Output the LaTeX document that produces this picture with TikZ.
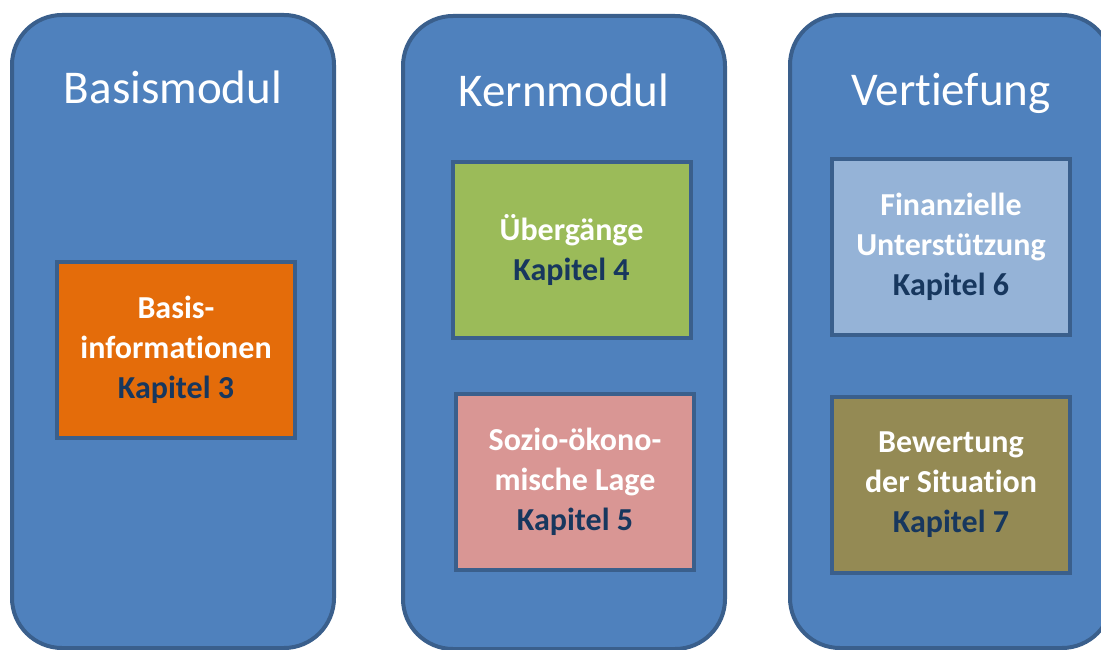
\documentclass[tikz,border=0pt]{standalone}
\usepackage{fontspec}
\setmainfont{Carlito}[Ligatures=NoCommon]
\usetikzlibrary{positioning}

\definecolor{modblue}{HTML}{4F81BD}
\definecolor{modedge}{HTML}{3A5F8C}
\definecolor{kapnavy}{HTML}{17375E}
\definecolor{boxorange}{HTML}{E46C0A}
\definecolor{boxgreen}{HTML}{9BBB59}
\definecolor{boxpink}{HTML}{D99694}
\definecolor{boxlight}{HTML}{95B3D7}
\definecolor{boxolive}{HTML}{948A54}

\tikzset{
  modul/.style={draw=modedge, line width=4pt, fill=modblue, rounded corners=50pt,
    minimum width=322pt, minimum height=633pt, inner sep=0pt},
  modtitle/.style={text=white, font=\fontsize{47}{56}\selectfont, anchor=base},
  chapbox/.style={draw=modedge, line width=4pt, minimum width=238pt,
    minimum height=176pt, align=center, text=white, inner sep=0pt,
    font=\bfseries\fontsize{32}{40}\selectfont},
}
\newcommand\kap[1]{\textcolor{kapnavy}{Kapitel #1}}

\begin{document}
\begin{tikzpicture}[x=1pt, y=-1pt]

  \useasboundingbox (0,0) rectangle (1101,650);
  \clip (0,0) rectangle (1101,650);

  \newcommand\XA{173};
  \newcommand\XB{564};
  \newcommand\XC{951};

  % the three modules
  \node[modul] (basis) at (\XA, 331.5) {};
  \node[modul] (kern)  at (\XB, 332.5) {};
  \node[modul] (vert)  at (\XC, 331.5) {};

  \node[modtitle] (basistitle) at (\XA, 104) {Basismodul};
  \node[modtitle] (kerntitle)  at (\XB, 107) {Kernmodul};
  \node[modtitle] (verttitle)  at (\XC, 106) {Vertiefung};

  % chapters
  \node[chapbox, fill=boxorange] (info) at (176, 350)
    {Basis-\\informationen\\\kap{3}};

  \node[chapbox, fill=boxgreen] (ueber) at (571.5, 250)
    {Übergänge\\\kap{4}};
  \node[chapbox, fill=boxpink] (sozio) at (575, 482)
    {Sozio-ökono-\\mische Lage\\\kap{5}};

  \node[chapbox, fill=boxlight] (finanz) at (951, 247)
    {Finanzielle\\Unterstützung\\\kap{6}};
  \node[chapbox, fill=boxolive] (bewert) at (951, 484.5)
    {Bewertung\\der Situation\\\kap{7}};

\end{tikzpicture}
\end{document}
